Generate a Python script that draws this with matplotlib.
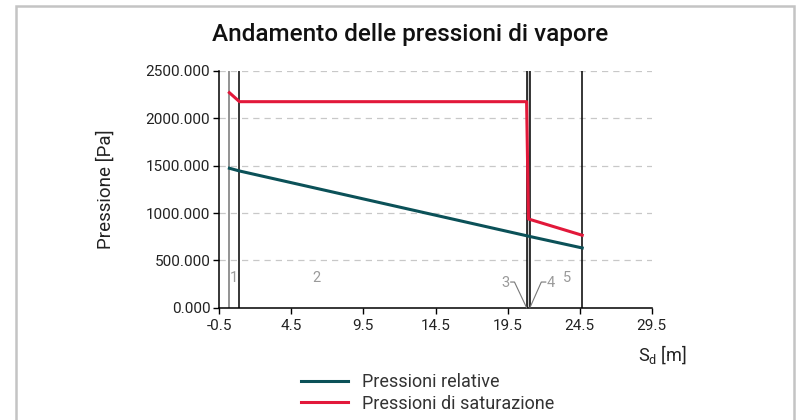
import matplotlib
matplotlib.use("Agg")
import matplotlib.pyplot as plt
from matplotlib.patches import Rectangle

plt.rcParams['font.family'] = ['Roboto', 'DejaVu Sans']

# layer boundaries (Sd, m)
sd_bounds = [0.2, 0.9, 20.82, 21.05, 24.68]
layer_names = ["1", "2", "3", "4", "5"]

# pressure curves (Pa) at the boundaries
sd_rel = [0.2, 0.9, 20.82, 21.05, 24.68]
p_rel = [1473, 1444, 760, 752, 631]
sd_sat = [0.2, 0.9, 20.82, 20.95, 24.68]
p_sat = [2271, 2176, 2176, 937, 765]

xticks = [-0.5, 4.5, 9.5, 14.5, 19.5, 24.5, 29.5]
yticks = [0, 500, 1000, 1500, 2000, 2500]

teal = "#0b5158"
red = "#e2183a"
txt = "#222222"

fig = plt.figure(figsize=(7.97, 4.2), dpi=100)
fig.patches.append(Rectangle((16 / 797, -0.01), (793.5 - 16) / 797, 1 - 6 / 420 + 0.01,
                             transform=fig.transFigure, fill=False,
                             edgecolor="#c4c4c4", linewidth=1.8))

ax = fig.add_axes([219.3 / 797, 1 - 307.7 / 420, (651.7 - 219.3) / 797, (307.7 - 71) / 420])

# grid
for y in yticks[1:]:
    ax.axhline(y, color="#c8c8c8", lw=0.9, dashes=(5, 4), zorder=0)

# layer lines
ax.axvspan(sd_bounds[2], sd_bounds[3], color="#cfcfcf", lw=0, zorder=1)
ax.axvline(sd_bounds[0], color="#808080", lw=1.2, zorder=2)
for b in sd_bounds[1:]:
    ax.axvline(b, color="black", lw=1.1, zorder=2)

l1, = ax.plot(sd_rel, p_rel, color=teal, lw=2.2, zorder=3, label="Pressioni relative")
l2, = ax.plot(sd_sat, p_sat, color=red, lw=2.2, zorder=3, label="Pressioni di saturazione")

# layer numbers
gray = "#9a9a9a"
ax.text(0.49, 314, layer_names[0], color=gray, fontsize=10.5, ha="center", va="center")
ax.text(6.25, 314, layer_names[1], color=gray, fontsize=10.5, ha="center", va="center")
ax.text(23.66, 314, layer_names[4], color=gray, fontsize=10.5, ha="center", va="center")
ax.text(19.34, 266, layer_names[2], color=gray, fontsize=10.5, ha="center", va="center")
ax.plot([19.72, 19.98, sd_bounds[2]], [271, 271, 0], color="#777777", lw=0.8, zorder=4, clip_on=False)
ax.text(22.5, 266, layer_names[3], color=gray, fontsize=10.5, ha="center", va="center")
ax.plot([22.15, 21.84, sd_bounds[3]], [271, 271, 0], color="#777777", lw=0.8, zorder=4, clip_on=False)

ax.set_xlim(-0.5, 29.5)
ax.set_ylim(0, 2500)
ax.set_xticks(xticks)
ax.set_yticks(yticks)
ax.set_xticklabels([f"{t:.1f}" for t in xticks])
ax.set_yticklabels([f"{t:.3f}" for t in yticks])
ax.tick_params(direction="out", length=4, width=1, color="black", labelsize=11, labelcolor=txt, pad=2.5)
ax.tick_params(axis="x", pad=4)
for s in ["top", "right"]:
    ax.spines[s].set_visible(False)
for s in ["left", "bottom"]:
    ax.spines[s].set_linewidth(1.1)
ax.set_ylabel("Pressione [Pa]", fontsize=13.5, color=txt)
ax.yaxis.set_label_coords((115 - 219.3) / (651.7 - 219.3), 0.5)

fig.text(410 / 797, 1 - 35 / 420, "Andamento delle pressioni di vapore", fontsize=17.5,
         fontweight="medium", ha="center", va="center", color="#111111")
fig.text(662 / 797, 1 - 355 / 420, "S$_\\mathregular{d}$ [m]", fontsize=13,
         ha="center", va="center", color=txt)

fig.legend(handles=[l1, l2], loc="upper left", bbox_to_anchor=(301 / 797, 1 - 373 / 420),
           frameon=False, fontsize=13, handlelength=2.6, handletextpad=0.8,
           labelspacing=0.2, labelcolor="#333333", borderaxespad=0, borderpad=0)

fig.savefig("out.png", dpi=100)
